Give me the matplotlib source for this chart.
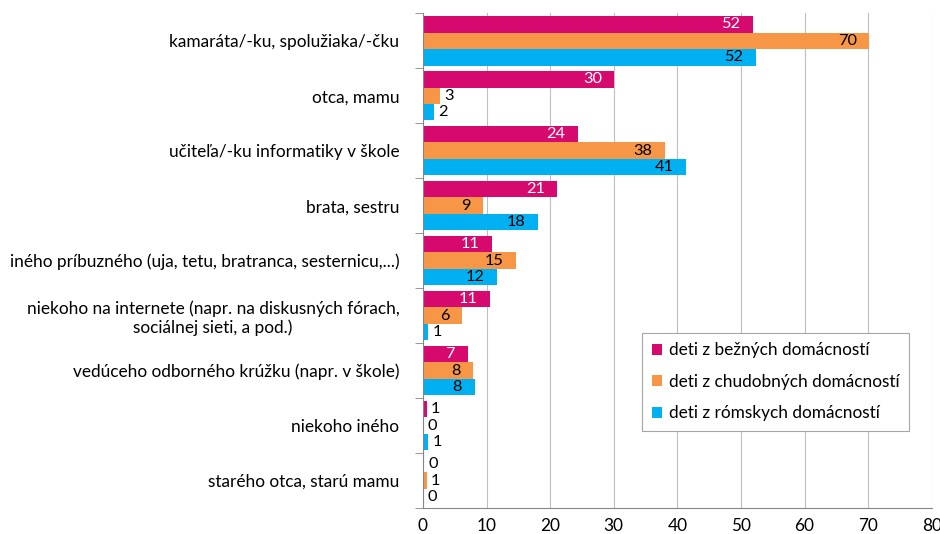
import numpy as np
import matplotlib
matplotlib.use("Agg")
import matplotlib.pyplot as plt
from matplotlib.ticker import FixedLocator, NullFormatter

plt.rcParams["font.family"] = ["Lato", "DejaVu Sans"]

categories = [
    "kamaráta/-ku, spolužiaka/-čku",
    "otca, mamu",
    "učiteľa/-ku informatiky v škole",
    "brata, sestru",
    "iného príbuzného (uja, tetu, bratranca, sesternicu,...)",
    "niekoho na internete (napr. na diskusných fórach,\nsociálnej sieti, a pod.)",
    "vedúceho odborného krúžku (napr. v škole)",
    "niekoho iného",
    "starého otca, starú mamu",
]
series_names = [
    "deti z bežných domácností",
    "deti z chudobných domácností",
    "deti z rómskych domácností",
]
bezne = [51.9, 30.1, 24.3, 21.1, 10.8, 10.6, 7.0, 0.6, 0.2]
chudobne = [70.2, 2.7, 38.0, 9.4, 14.7, 6.2, 7.9, 0.0, 0.6]
romske = [52.3, 1.7, 41.4, 18.1, 11.7, 0.85, 8.1, 0.85, 0.0]

colors = ["#D60A6E", "#F79646", "#00B0F0"]
label_colors = ["white", "black", "black"]
FS = 12.4

fig = plt.figure(figsize=(9.4, 5.34), dpi=100)
ax = fig.add_axes([0.45, 0.0487, 0.5412, 0.9264])

y = np.arange(len(categories))
h = 0.3
for k, (vals, name) in enumerate(zip([bezne, chudobne, romske], series_names)):
    pos = y + (k - 1) * h
    ax.barh(pos, vals, height=h, color=colors[k], label=name, zorder=3)
    for p, v in zip(pos, vals):
        txt = f"{v:.0f}"
        if v >= 5:
            ax.annotate(txt, (v, p), xytext=(-9, 0), textcoords="offset points",
                        ha="right", va="center", fontsize=11.8, color=label_colors[k], zorder=4)
        else:
            ax.annotate(txt, (v, p), xytext=(3, 0), textcoords="offset points",
                        ha="left", va="center", fontsize=11.8, color="black", zorder=4)

ax.set_xlim(0, 80)
ax.set_ylim(len(categories) - 0.5, -0.5)
ax.set_xticks(np.arange(0, 81, 10))
ax.tick_params(axis="x", length=0, pad=7, labelsize=FS)
ax.set_yticks(y)
ax.set_yticklabels(categories, fontsize=FS, multialignment="center")
ax.tick_params(axis="y", which="major", length=0, pad=17)
ax.yaxis.set_minor_locator(FixedLocator(np.arange(-0.5, len(categories), 1)))
ax.yaxis.set_minor_formatter(NullFormatter())
ax.tick_params(axis="y", which="minor", length=6, color="#868686")

ax.grid(axis="x", color="#BFBFBF", linewidth=0.8, zorder=0)
for s in ["top", "right"]:
    ax.spines[s].set_visible(False)
for s in ["left", "bottom"]:
    ax.spines[s].set_color("#868686")
    ax.spines[s].set_zorder(5)

leg = ax.legend(loc="lower right", bbox_to_anchor=(0.955, 0.156), borderaxespad=0,
                fontsize=FS, handlelength=0.6, handleheight=0.6, handletextpad=0.4,
                labelspacing=0.9, borderpad=0.55, fancybox=False, framealpha=1)
leg.get_frame().set_edgecolor("#A6A6A6")
leg.get_frame().set_linewidth(0.8)

fig.savefig("out.png", dpi=100)
